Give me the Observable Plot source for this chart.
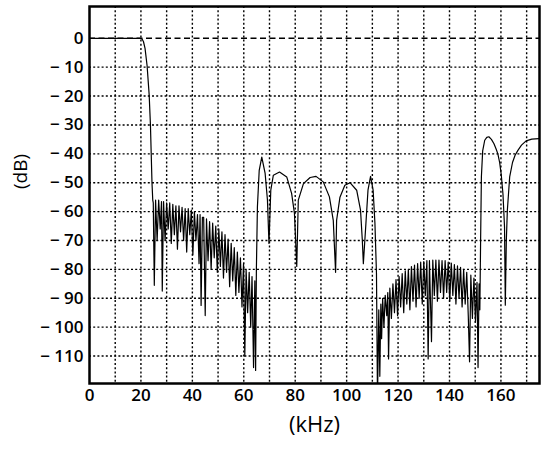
<!DOCTYPE html>
<html>
<head>
<meta charset="utf-8">
<script src="https://cdn.jsdelivr.net/npm/d3@7"></script>
<script src="https://cdn.jsdelivr.net/npm/@observablehq/plot@0.6"></script>
<style>
  html, body { margin: 0; padding: 0; background: #fff; }
</style>
</head>
<body>
<div id="chart"></div>
<script>
// Frequency (kHz) of each traced point
const freqKHz = [
  0, 18, 20, 20.5, 21, 21.6, 22.4, 23.2, 23.7, 24.0, 24.3, 24.6,
  24.8, 25.2, 25.7, 26.3, 26.9, 27.5, 28.0, 28.3, 28.8, 29.4, 30.0, 30.6, 31.2, 31.8,
  32.4, 33.0, 33.6, 34.2, 34.8, 35.4, 36.0, 36.6, 37.2, 37.8, 38.4, 39.0, 39.6, 40.2,
  40.8, 41.4, 42.0, 42.6, 43.0, 43.4, 43.9, 44.4, 45.0, 45.5, 46.1, 46.7, 47.3, 47.9,
  48.5, 49.1, 49.7, 50.3, 50.9, 51.5, 52.1, 52.7, 53.3, 53.9, 54.5, 55.1, 55.7, 56.3,
  56.9, 57.5, 58.1, 58.7, 59.3, 59.9, 60.4, 60.9, 61.5, 62.1, 62.7, 63.2, 63.8, 64.3,
  64.6, 64.9, 65.3, 66.0, 67.0, 68.3, 69.2, 69.8,
  70.5, 71.5, 73.9, 76.7, 78.6, 79.7, 80.6,
  81.2, 83.2, 85.8, 88.1, 90.9, 93.3, 94.8, 95.7,
  96.1, 97.4, 99.3, 101.3, 103.9, 105.4, 106.1, 106.5,
  107.5, 108.3, 109.3, 110.3, 111.0, 111.6, 112.0,
  112.5, 112.9, 113.3, 113.6, 114.0, 114.5, 115.0, 115.6, 116.0, 116.3, 116.8, 117.4,
  118.0, 118.6, 119.2, 119.8, 120.4, 121.0, 121.6, 122.2, 122.8, 123.4, 124.0, 124.6,
  125.2, 125.8, 126.4, 127.0, 127.6, 128.2, 128.8, 129.4, 130.0, 130.6, 131.2, 131.7,
  132.2, 133.0, 133.5, 134.1, 134.7, 135.3, 135.9, 136.5, 137.1, 137.7, 138.3, 138.9,
  139.5, 140.1, 140.7, 141.3, 141.9, 142.5, 143.1, 143.7, 144.3, 144.9, 145.5, 146.1,
  146.7, 147.3, 147.8, 148.3, 148.9, 149.5, 150.1, 150.7, 151.1, 151.5, 151.8,
  152.1, 152.4, 152.9, 153.7, 154.5, 155.3, 156.3, 157.3, 158.2, 158.8, 159.5, 160.1,
  160.8, 161.4, 161.7, 162.1, 162.5, 163.4, 164.5, 165.5, 166.6, 168.0, 169.8, 172.0, 175.0
];
// Level (dB) of each traced point
const levelDB = [
  0, 0, 0, -0.3, -1.2, -3.5, -9.5, -19.5, -30, -40, -50, -56,
  -57, -85.5, -56, -70, -56, -66, -56.5, -87.5, -56.5, -70, -57, -66, -57, -71,
  -57.5, -68, -58, -73, -58, -67, -58.5, -70, -59, -74, -59, -68, -59.5, -75,
  -60, -70, -61, -78, -61, -92.5, -62, -62, -96, -62.5, -77, -63.5, -80, -64,
  -76, -65, -81, -66, -79, -67, -83, -68, -81, -69.5, -86, -71, -84, -72.5,
  -89, -74, -88, -76, -93, -78, -110, -80, -95, -81, -100, -82.5, -114, -84,
  -115, -80, -58.4, -45.7, -41.1, -46.8, -56, -71,
  -52.6, -47.4, -46.3, -48, -53.7, -60.6, -79,
  -56, -50.3, -48.2, -47.8, -49.7, -54.9, -63, -81,
  -63, -55, -50.9, -50, -52.6, -59.5, -70, -78,
  -64, -52.6, -47.8, -52.6, -64, -81.4, -125,
  -94, -117, -92, -104, -90, -100, -89, -96, -88, -111, -86.5, -97,
  -85, -95, -83.5, -96, -82.5, -93, -81.5, -95, -80.5, -92, -80, -94,
  -79, -91, -78.5, -93, -78, -90, -77.5, -92, -77.3, -89, -77, -111,
  -77, -105, -76.8, -89, -76.8, -91, -76.8, -88, -77, -90, -77, -88,
  -77.5, -91, -77.8, -89, -78.3, -92, -78.8, -90, -79.3, -93, -80, -92,
  -81, -96, -112, -82, -97, -83, -98, -84.5, -114, -85, -94,
  -70, -48, -39, -35.3, -34.3, -34.1, -35, -36.5, -38.5, -40, -43, -47,
  -54, -65.3, -92.4, -70, -59.5, -48, -43, -40.5, -38.8, -37, -35.5, -34.9, -34.7
];
const xTickValues = [0, 20, 40, 60, 80, 100, 120, 140, 160];
const xGridValues = [10, 20, 30, 40, 50, 60, 70, 80, 90, 100, 110, 120, 130, 140, 150, 160, 170];
const yTickValues = [0, -10, -20, -30, -40, -50, -60, -70, -80, -90, -100, -110];
const yGridValues = [-10, -20, -30, -40, -50, -60, -70, -80, -90, -100, -110];
const referenceLevel = [0];
const xLabel = "(kHz)";
const yLabel = "(dB)";

const curve = freqKHz.map((f, i) => ({f, db: levelDB[i]}));

const chart = Plot.plot({
  width: 544,
  height: 449,
  marginLeft: 89,
  marginRight: 5,
  marginTop: 6,
  marginBottom: 66,
  style: {fontFamily: "'Open Sans', sans-serif", fontSize: "17px", color: "#000", background: "#fff"},
  x: {domain: [0, 175], label: null},
  y: {domain: [-119.5, 11], label: null},
  marks: [
    Plot.gridX(xGridValues, {stroke: "#000", strokeOpacity: 1, strokeWidth: 1.4, strokeDasharray: "2,2.2"}),
    Plot.gridY(yGridValues, {stroke: "#000", strokeOpacity: 1, strokeWidth: 1.4, strokeDasharray: "2,2.2"}),
    Plot.ruleY(referenceLevel, {stroke: "#000", strokeWidth: 1.6, strokeDasharray: "6,3.5"}),
    Plot.line(curve, {x: "f", y: "db", stroke: "#000", strokeWidth: 1.2, clip: true}),
    Plot.axisX(xTickValues, {tickSize: 0, tickPadding: 5, label: null, fontSize: 17, fontWeight: 600}),
    Plot.axisY(yTickValues, {tickSize: 0, tickPadding: 6, label: null, fontSize: 17, fontWeight: 600,
      tickFormat: d => d === 0 ? "0" : "\u2212 " + Math.abs(d)}),
    Plot.frame({stroke: "#000", strokeWidth: 2.5}),
    Plot.text([xLabel], {text: d => d, frameAnchor: "bottom", dy: 48, fontSize: 22, fontWeight: 500}),
    Plot.text([yLabel], {text: d => d, frameAnchor: "left", dx: -69, dy: -6, rotate: -90, fontSize: 19, fontWeight: 500})
  ]
});
document.getElementById("chart").appendChild(chart);
</script>
</body>
</html>
